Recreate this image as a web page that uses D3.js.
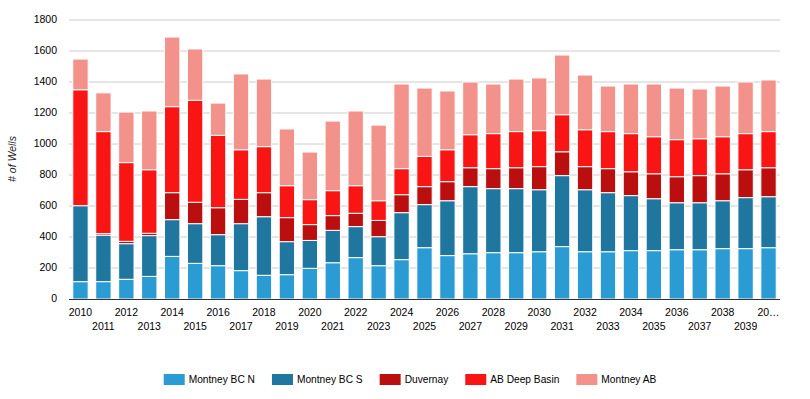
<!DOCTYPE html>
<html>
<head>
<meta charset="utf-8">
<script src="https://cdn.jsdelivr.net/npm/d3@7"></script>
<style>
  body { margin: 0; background: #fff; }
  svg { display: block; font-family: Arial, 'Liberation Sans', sans-serif; }
</style>
</head>
<body>
<svg id="chart" width="810" height="399"></svg>
<script>
const years = d3.range(2010, 2041).map(String);
const tickLabels = years.map((y, i) => (i === years.length - 1 ? '20…' : y));

const seriesNames = ['Montney BC N', 'Montney BC S', 'Duvernay', 'AB Deep Basin', 'Montney AB'];
const seriesColors = ['#2b9cd3', '#1f769f', '#bb0e0e', '#fa1515', '#f3928a'];

const montneyBcN = [112, 112, 127, 146, 275, 230, 215, 183, 153, 157, 198, 234, 267, 215, 254, 331,
  280, 292, 299, 299, 305, 338, 305, 305, 312, 312, 318, 318, 325, 325, 331];
const montneyBcS = [490, 300, 230, 263, 237, 256, 200, 303, 378, 213, 180, 209, 200, 187, 303, 278,
  354, 433, 413, 413, 400, 458, 400, 381, 355, 335, 303, 303, 309, 329, 329];
const duvernay = [0, 10, 15, 15, 174, 138, 174, 157, 155, 155, 102, 95, 86, 105, 116, 116,
  123, 122, 129, 135, 149, 154, 149, 155, 154, 161, 168, 175, 174, 180, 187];
const abDeepBasin = [748, 658, 508, 410, 555, 658, 467, 320, 297, 206, 161, 161, 178, 127, 168, 195,
  206, 213, 226, 233, 232, 239, 238, 239, 246, 239, 239, 238, 239, 233, 233];
const montneyAb = [198, 250, 326, 379, 449, 331, 208, 489, 436, 366, 307, 449, 482, 488, 546, 441,
  379, 340, 320, 339, 340, 385, 353, 294, 320, 340, 333, 321, 327, 333, 333];

const yTicks = [0, 200, 400, 600, 800, 1000, 1200, 1400, 1600, 1800];

const svg = d3.select('#chart');
const plot = { left: 69, right: 780, top: 20, bottom: 299 };

const x = d3.scaleBand()
  .domain(years)
  .range([plot.left, plot.right])
  .paddingInner(0.33)
  .paddingOuter(0.165);
const y = d3.scaleLinear().domain([0, 1800]).range([plot.bottom, plot.top]);

// gridlines
svg.append('g')
  .selectAll('line')
  .data(yTicks.slice(1))
  .join('line')
  .attr('x1', plot.left)
  .attr('x2', plot.right)
  .attr('y1', (d) => y(d))
  .attr('y2', (d) => y(d))
  .attr('stroke', '#cccccc')
  .attr('stroke-width', 1);

// y tick labels
svg.append('g')
  .selectAll('text')
  .data(yTicks)
  .join('text')
  .attr('x', 57)
  .attr('y', (d) => y(d))
  .attr('dy', '0.33em')
  .attr('text-anchor', 'end')
  .attr('font-size', '10.5px')
  .attr('fill', '#000')
  .text((d) => d);

// stacked bars
const rows = years.map((yr, i) => ({
  year: yr,
  'Montney BC N': montneyBcN[i],
  'Montney BC S': montneyBcS[i],
  Duvernay: duvernay[i],
  'AB Deep Basin': abDeepBasin[i],
  'Montney AB': montneyAb[i],
}));
const stacked = d3.stack().keys(seriesNames)(rows);

svg.append('g')
  .selectAll('g')
  .data(stacked)
  .join('g')
  .attr('fill', (d, i) => seriesColors[i])
  .selectAll('rect')
  .data((d) => d)
  .join('rect')
  .attr('x', (d) => x(d.data.year))
  .attr('width', x.bandwidth())
  .attr('y', (d) => y(d[1]))
  .attr('height', (d) => Math.max(0, y(d[0]) - y(d[1])))
  .attr('stroke', '#fff')
  .attr('stroke-width', 1);

// baseline
svg.append('line')
  .attr('x1', plot.left)
  .attr('x2', plot.right)
  .attr('y1', y(0) + 0.5)
  .attr('y2', y(0) + 0.5)
  .attr('stroke', '#333')
  .attr('stroke-width', 1);

// x tick labels, staggered in two rows
svg.append('g')
  .selectAll('text')
  .data(years)
  .join('text')
  .attr('x', (d) => x(d) + x.bandwidth() / 2)
  .attr('y', (d, i) => (i % 2 === 0 ? 316 : 330))
  .attr('text-anchor', 'middle')
  .attr('font-size', '10.5px')
  .attr('fill', '#000')
  .text((d, i) => tickLabels[i]);

// y axis title
svg.append('text')
  .attr('transform', 'translate(16,159) rotate(-90)')
  .attr('text-anchor', 'middle')
  .attr('font-size', '10.5px')
  .attr('font-style', 'italic')
  .attr('fill', '#222')
  .text('# of Wells');

// legend
const legend = svg.append('g');
const items = legend.selectAll('g')
  .data(seriesNames)
  .join('g');
items.append('rect')
  .attr('width', 21)
  .attr('height', 11)
  .attr('y', 374)
  .attr('fill', (d, i) => seriesColors[i]);
items.append('text')
  .attr('x', 25)
  .attr('y', 379.5)
  .attr('dy', '0.35em')
  .attr('font-size', '10.2px')
  .attr('fill', '#000')
  .text((d) => d);

let offset = 0;
items.each(function () {
  const w = d3.select(this).select('text').node().getComputedTextLength();
  d3.select(this).attr('data-x', offset);
  offset += 25 + w + 17;
});
const totalWidth = offset - 17;
const legendStart = 410 - totalWidth / 2;
items.attr('transform', function () {
  return `translate(${legendStart + +d3.select(this).attr('data-x')},0)`;
});
</script>
</body>
</html>
